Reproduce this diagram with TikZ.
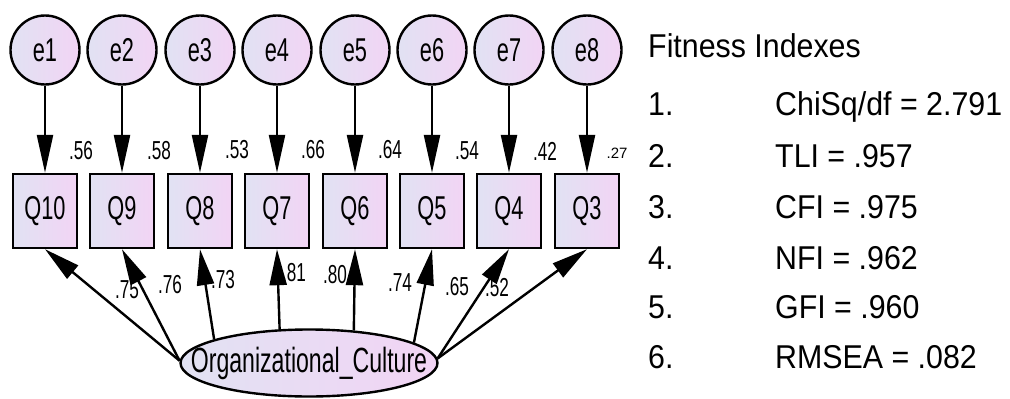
\documentclass[tikz,border=0pt]{standalone}
\usepackage{fontspec}
\setmainfont{Liberation Sans}
\newfontfamily\amosfont[FakeStretch=0.66]{Liberation Sans}
\newfontfamily\fitfont[FakeStretch=0.92]{Liberation Sans}
\usetikzlibrary{arrows.meta,shapes.geometric}

\definecolor{fillA}{RGB}{225,226,243}
\definecolor{fillB}{RGB}{242,212,244}

\begin{document}
\begin{tikzpicture}[x=1pt,y=-1pt,
  errnode/.style={circle, draw, line width=2.4pt, minimum size=69pt, inner sep=0pt,
    left color=fillA, right color=fillB, font=\amosfont\fontsize{33}{33}\selectfont},
  obsnode/.style={rectangle, draw, line width=2.4pt, minimum width=64pt, minimum height=74pt,
    inner sep=0pt, left color=fillA, right color=fillB, font=\amosfont\fontsize{33}{33}\selectfont},
  latnode/.style={ellipse, draw, line width=2.4pt, minimum width=257pt, minimum height=67pt,
    inner sep=0pt, left color=fillA, right color=fillB},
  lattext/.style={font=\amosfont\fontsize{35}{35}\selectfont, inner sep=0pt},
  wlabel/.style={inner sep=0pt, font=\amosfont\fontsize{26}{26}\selectfont},
  downarrow/.style={line width=2.4pt, -{Triangle[length=38pt,width=16pt]}},
  uparrow/.style={line width=2.4pt, -{Triangle[length=36pt,width=17pt]}},
  fittext/.style={anchor=base west, inner sep=0pt, font=\fitfont\fontsize{33}{33}\selectfont},
]
\useasboundingbox (0,0) rectangle (1010,399);
\fill[white] (0,0) rectangle (1010,399);

% error terms and observed items
\foreach \i/\x/\q in {1/45/10, 2/122/9, 3/200/8, 4/277/7, 5/355/6, 6/432/5, 7/509/4, 8/587/3} {
  \node[errnode] (e\i) at (\x,50) {e\i};
  \node[obsnode] (q\q) at (\x,211) {Q\q};
}

% latent factor: the ellipse keeps its own size, the name sits on top of it
\node[latnode, label={[lattext]center:Organizational\_Culture}] (oc) at (309,363) {};

% squared multiple correlations
\node[wlabel] (r10) at (81,151) {.56};
\node[wlabel] (r9) at (159,151) {.58};
\node[wlabel] (r8) at (237,150) {.53};
\node[wlabel] (r7) at (313,150) {.66};
\node[wlabel] (r6) at (390,150) {.64};
\node[wlabel] (r5) at (467,151) {.54};
\node[wlabel] (r4) at (545,151) {.42};
\node[inner sep=0pt, font=\fontsize{15}{15}\selectfont] (r3) at (617,153) {.27};

% standardized loadings
\node[wlabel] (l10) at (127,290) {.75};
\node[wlabel] (l9) at (170,285) {.76};
\node[wlabel] (l8) at (223,280) {.73};
\node[wlabel] (l7) at (294,273) {.81};
\node[wlabel] (l6) at (335,275) {.80};
\node[wlabel] (l5) at (400,283) {.74};
\node[wlabel] (l4) at (457,287) {.65};
\node[wlabel] (l3) at (497,288) {.52};

% error paths
\draw[downarrow] (e1.south) -- (q10.north);
\draw[downarrow] (e2.south) -- (q9.north);
\draw[downarrow] (e3.south) -- (q8.north);
\draw[downarrow] (e4.south) -- (q7.north);
\draw[downarrow] (e5.south) -- (q6.north);
\draw[downarrow] (e6.south) -- (q5.north);
\draw[downarrow] (e7.south) -- (q4.north);
\draw[downarrow] (e8.south) -- (q3.north);

% factor loadings
\draw[uparrow] (oc.179) -- (q10.south);
\draw[uparrow] (oc.179) -- (q9.south);
\draw[uparrow] (oc.166) -- (q8.south);
\draw[uparrow] (oc.131) -- (q7.south);
\draw[uparrow] (oc.36) -- (q6.south);
\draw[uparrow] (oc.11) -- (q5.south);
\draw[uparrow] (oc.2) -- (q4.south);
\draw[uparrow] (oc.2) -- (q3.south);

% fit indices
\node[fittext] (fit) at (648,57) {Fitness Indexes};
\foreach \n/\yy/\t in {1/115/{ChiSq/df = 2.791}, 2/167/{TLI = .957}, 3/218/{CFI = .975},
                       4/269/{NFI = .962}, 5/318/{GFI = .960}, 6/368/{RMSEA = .082}} {
  \node[fittext] (n\n) at (648,\yy) {\n.};
  \node[fittext] (v\n) at (775,\yy) {\t};
}
\end{tikzpicture}
\end{document}
